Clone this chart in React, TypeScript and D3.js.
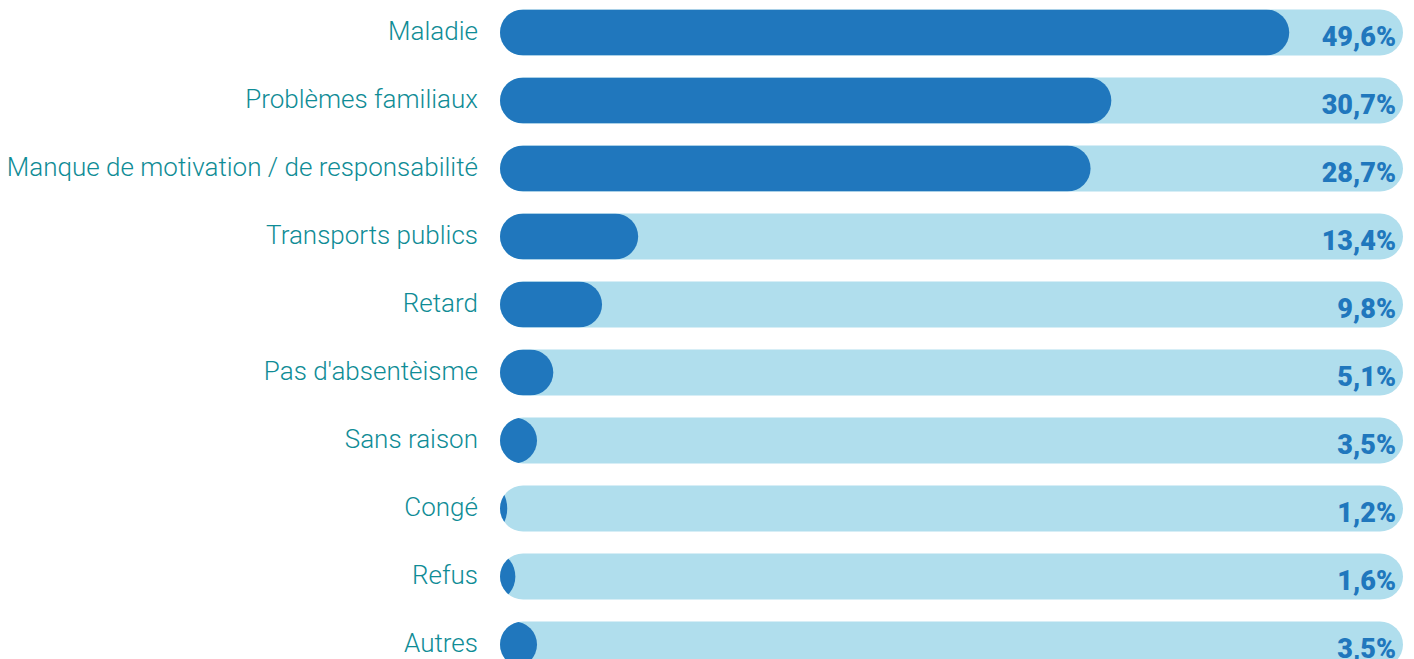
import React from "react";
import * as d3 from "d3";

const categories = [
  "Maladie",
  "Problèmes familiaux",
  "Manque de motivation / de responsabilité",
  "Transports publics",
  "Retard",
  "Pas d'absentèisme",
  "Sans raison",
  "Congé",
  "Refus",
  "Autres",
];
const valueLabels = ["49,6%", "30,7%", "28,7%", "13,4%", "9,8%", "5,1%", "3,5%", "1,2%", "1,6%", "3,5%"];
// bar lengths as drawn in the picture (share of the full track, 0-100)
const barLengths = [87.4, 67.7, 65.4, 15.3, 11.3, 5.9, 4.1, 0.8, 1.7, 4.1];

const W = 1414;
const H = 659;
const trackX0 = 500;
const trackX1 = 1403;
const rowStep = 68;
const firstCenter = 32.5;
const barH = 46;

export default function App() {
  const x = d3.scaleLinear().domain([0, 100]).range([trackX0, trackX1]);
  const y = d3
    .scaleBand<number>()
    .domain(d3.range(categories.length))
    .range([firstCenter - rowStep / 2, firstCenter - rowStep / 2 + rowStep * categories.length])
    .paddingInner(0)
    .paddingOuter(0);
  const r = barH / 2;
  return (
    <svg
      width={W}
      height={H}
      style={{ position: "absolute", left: 0, top: 0, display: "block" }}
      fontFamily="Roboto, sans-serif"
    >
      <defs>
        {categories.map((_, i) => {
          const cy = (y(i) as number) + y.bandwidth() / 2;
          return (
            <clipPath id={`clip${i}`} key={i}>
              <rect x={x(0)} y={cy - barH / 2} width={x(100) - x(0)} height={barH} rx={r} ry={r} />
            </clipPath>
          );
        })}
      </defs>
      {categories.map((c, i) => {
        const cy = (y(i) as number) + y.bandwidth() / 2;
        const w = x(barLengths[i]) - x(0);
        return (
          <g key={c}>
            <text
              x={478}
              y={cy + 7}
              textAnchor="end"
              fontSize={26}
              fontWeight={300}
              fill="#0f8c96"
            >
              {c}
            </text>
            <rect x={x(0)} y={cy - barH / 2} width={x(100) - x(0)} height={barH} rx={r} ry={r} fill="#b0deed" />
            <g clipPath={`url(#clip${i})`}>
              <rect
                x={x(0) - r}
                y={cy - barH / 2}
                width={w + r}
                height={barH}
                rx={Math.min(r, (w + r) / 2)}
                ry={r}
                fill="#2077bd"
              />
            </g>
            <text
              x={1396}
              y={cy + 13}
              textAnchor="end"
              fontSize={27}
              fontWeight={900}
              fill="#2077bd"
            >
              {valueLabels[i]}
            </text>
          </g>
        );
      })}
    </svg>
  );
}
